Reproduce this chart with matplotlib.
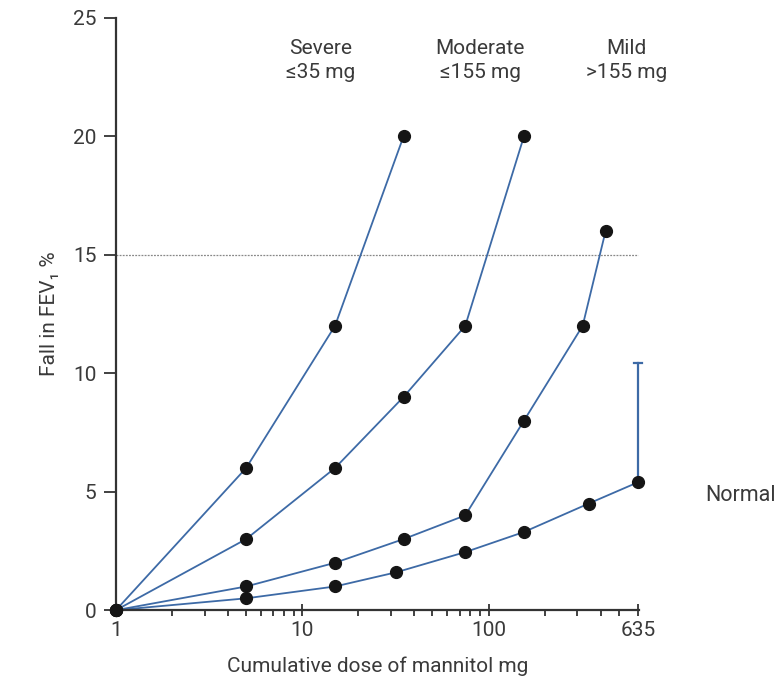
import numpy as np
import matplotlib
matplotlib.use('Agg')
import matplotlib.pyplot as plt
from matplotlib.ticker import FixedLocator, NullFormatter

# data
severe_x = [1, 5, 15, 35]
severe_y = [0, 6, 12, 20]
moderate_x = [1, 5, 15, 35, 75, 155]
moderate_y = [0, 3, 6, 9, 12, 20]
mild_x = [1, 5, 15, 35, 75, 155, 320, 425]
mild_y = [0, 1, 2, 3, 4, 8, 12, 16]
normal_x = [1, 5, 15, 32, 75, 155, 345, 635]
normal_y = [0, 0.5, 1.0, 1.6, 2.45, 3.3, 4.5, 5.4]
normal_err_top = 10.45

group_labels = ['Severe\n\u226435 mg', 'Moderate\n\u2264155 mg', 'Mild\n>155 mg']
group_label_x = [12.5, 90, 550]

x_ticks = [1, 10, 100, 635]
x_minor = [2, 3, 4, 5, 6, 7, 8, 9, 20, 30, 40, 50, 60, 70, 80, 90, 200, 300, 400, 500]
y_ticks = [0, 5, 10, 15, 20, 25]

fam = ['Roboto', 'DejaVu Sans']
plt.rcParams['font.family'] = fam
txt = '#3a3a3a'
blue = '#3d6aa6'

fig = plt.figure(figsize=(7.78, 6.81), dpi=100)
ax = fig.add_axes([0.149, 0.104, 0.672, 0.870])

ax.set_xscale('log')
ax.set_xlim(1, 640)
ax.set_ylim(0, 25)

ax.plot([1, 635], [15, 15], color='#888888', lw=0.9, ls=(0, (1.5, 1)), zorder=1)

for xs, ys in [(severe_x, severe_y), (moderate_x, moderate_y), (mild_x, mild_y), (normal_x, normal_y)]:
    ax.plot(xs, ys, color=blue, lw=1.3, zorder=2)
    ax.plot(xs, ys, 'o', color='#151515', ms=8.5, zorder=3, clip_on=False)

# error bar on the normal curve
ax.plot([normal_x[-1], normal_x[-1]], [normal_y[-1], normal_err_top], color=blue, lw=1.6, zorder=2,
        clip_on=False)
ax.plot([normal_x[-1] * 0.955, normal_x[-1] * 1.045], [normal_err_top, normal_err_top], color=blue,
        lw=1.6, zorder=2, clip_on=False)

for lab, gx in zip(group_labels, group_label_x):
    ax.text(gx, 23.2, lab, ha='center', va='center', fontsize=15, color=txt, linespacing=1.3)
fig.text(0.997, 0.272, 'Normal', ha='right', va='center', fontsize=15.5, color=txt)

for s in ['top', 'right']:
    ax.spines[s].set_visible(False)
for s in ['left', 'bottom']:
    ax.spines[s].set_linewidth(1.6)
    ax.spines[s].set_color('#333333')
ax.spines['bottom'].set_bounds(1, 640)

ax.xaxis.set_major_locator(FixedLocator(x_ticks))
ax.set_xticklabels([str(t) for t in x_ticks])
ax.xaxis.set_minor_locator(FixedLocator(x_minor))
ax.xaxis.set_minor_formatter(NullFormatter())
ax.set_yticks(y_ticks)
ax.tick_params(axis='x', which='major', direction='inout', length=8, width=1.3, colors='#333333',
               labelcolor=txt, labelsize=15, pad=4)
ax.tick_params(axis='x', which='minor', direction='out', length=4, width=1.3, colors='#333333')
ax.tick_params(axis='y', direction='out', length=9, width=1.3, colors='#333333', labelcolor=txt,
               labelsize=15, pad=5)

ax.set_xlabel('Cumulative dose of mannitol mg', fontsize=15, color=txt, labelpad=12)
ax.set_ylabel('Fall in FEV\u2081 %', fontsize=15, color=txt, labelpad=10)

fig.savefig('out.png', dpi=100)
